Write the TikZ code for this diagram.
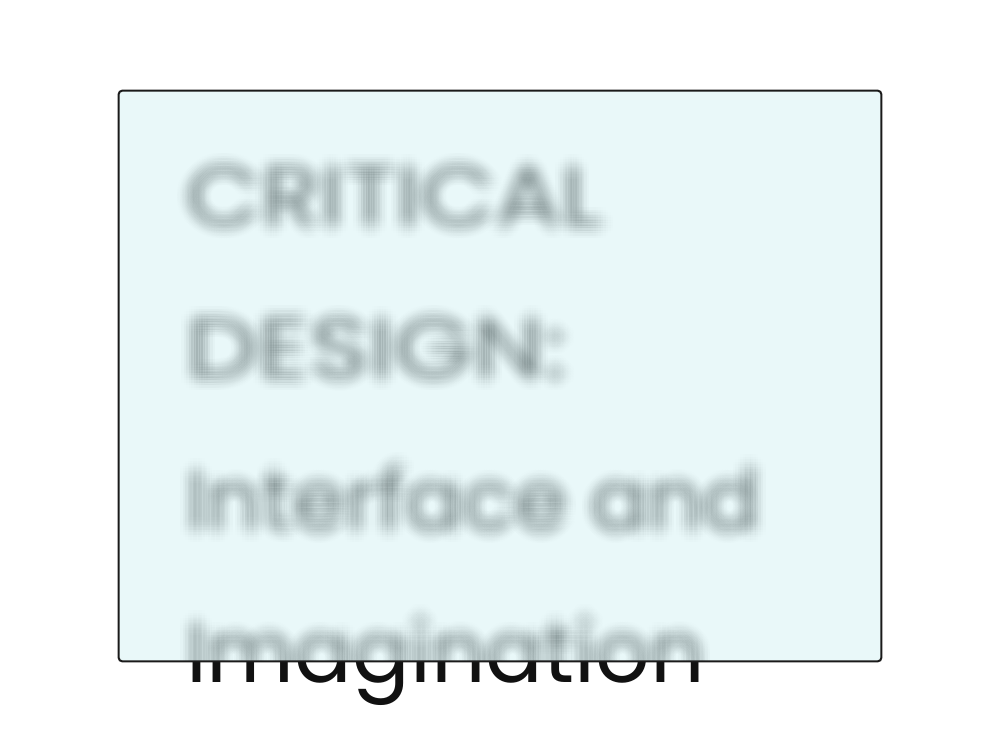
\documentclass[tikz,border=0pt]{standalone}
\usepackage{fontspec}
\setmainfont{Poppins}
\definecolor{panelfill}{HTML}{E9F8F9}
\definecolor{panelline}{HTML}{1A1A1A}
\definecolor{ink}{HTML}{111111}
\begin{document}
\begin{tikzpicture}[x=0.75pt,y=-0.75pt]
\tikzset{
  titleline/.style={anchor=base west, inner sep=0pt, outer sep=0pt,
    font=\fontsize{64}{64}\selectfont, text=ink},
  panelbox/.style={rectangle, rounded corners=2.5pt, inner sep=0pt,
    minimum width=571.5pt, minimum height=427.5pt},
}
\useasboundingbox (0,0) rectangle (1000,750);
% sharp text (visible only below the panel)
\node[titleline, xscale=1.14] (t1) at (186,226) {CRITICAL};
\node[titleline, xscale=1.19] (t2) at (186,378) {DESIGN:};
\node[titleline] (t3) at (186,530) {Interface and};
\node[titleline] (t4) at (186,682) {Imagination};
% frosted panel
\node[panelbox, fill=panelfill] (panel) at (500,376) {};
\begin{scope}
  \clip[rounded corners=2.5pt] (panel.south west) rectangle (panel.north east);
  \foreach \dx in {-15,-12.5,...,15}{
    \foreach \dy in {-15,-12.5,...,15}{
      \pgfmathsetmacro\op{0.0102*exp(-(\dx*\dx+\dy*\dy)/112)}
      \node[titleline, xscale=1.14, text opacity=\op] (b1) at (186+\dx,226+\dy) {CRITICAL};
      \node[titleline, xscale=1.19, text opacity=\op] (b2) at (186+\dx,378+\dy) {DESIGN:};
      \node[titleline, text opacity=\op] (b3) at (186+\dx,530+\dy) {Interface and};
      \node[titleline, text opacity=\op] (b4) at (186+\dx,682+\dy) {Imagination};
    }
  }
\end{scope}
\draw[panelline, line width=1.5pt, rounded corners=2.5pt]
  (panel.south west) rectangle (panel.north east);
\end{tikzpicture}
\end{document}
